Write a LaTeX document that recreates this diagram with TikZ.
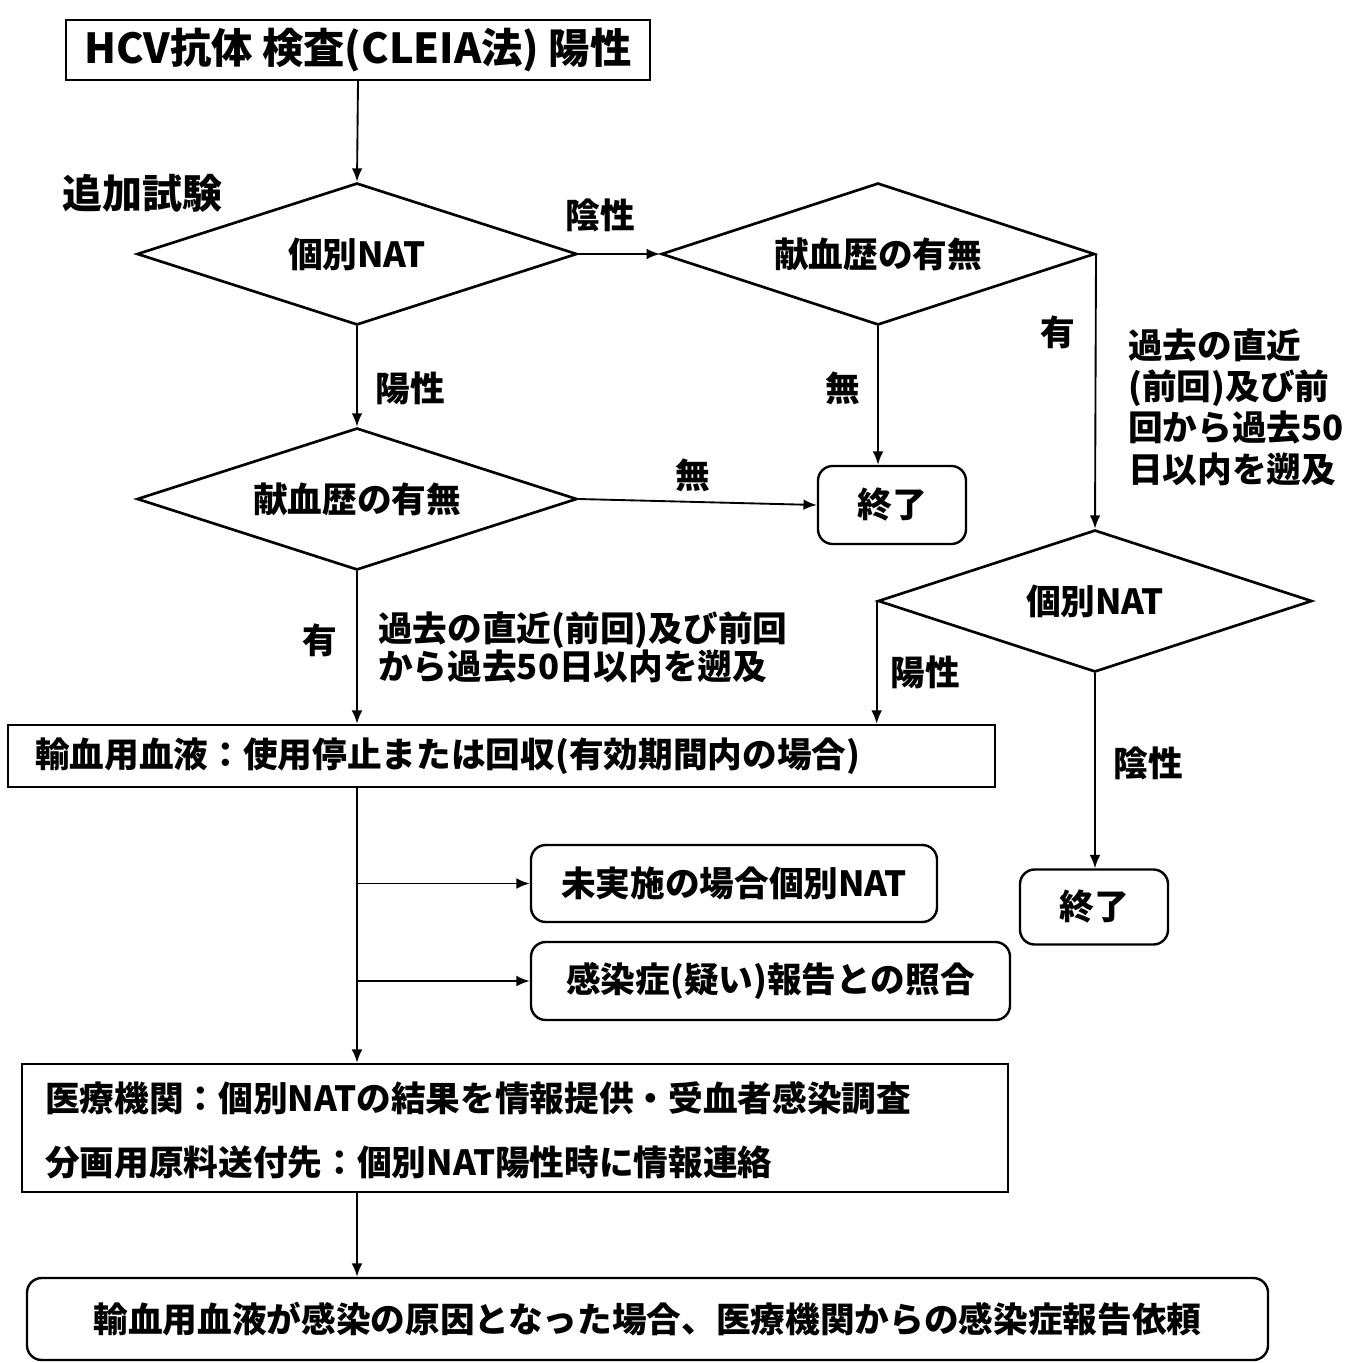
\documentclass[tikz,border=0pt]{standalone}
\usepackage{fontspec}
\setmainfont{Noto Sans CJK JP}
\usetikzlibrary{shapes.geometric,arrows.meta}
\begin{document}
\begin{tikzpicture}[x=0.75pt,y=-0.75pt,
  every node/.style={font=\fontsize{26}{31}\selectfont\bfseries, inner sep=0pt},
  dia/.style={draw, line width=2pt, shape=diamond, aspect=3.1, minimum height=106.5pt},
  sqbox/.style={draw, line width=1.8pt},
  rbox/.style={draw, line width=1.8pt, rounded corners=11pt},
  arr/.style={line width=1.4pt, -{Latex[length=10pt,width=8pt]}},
  lbl/.style={}
]
\useasboundingbox (0,0) rectangle (1357,1363);
% nodes
\node[sqbox, minimum width=438pt, minimum height=45pt, font=\fontsize{31}{36}\selectfont\bfseries] (top) at (358,50) {HCV抗体 検査(CLEIA法) 陽性};
\node[lbl, font=\fontsize{30}{36}\selectfont\bfseries] (tsuika) at (142,193) {追加試験};
\node[dia, minimum width=330pt] (d1) at (357,254) {個別NAT};
\node[dia, minimum width=325pt] (d2) at (878,254) {献血歴の有無};
\node[dia, minimum width=330pt] (d3) at (357,499) {献血歴の有無};
\node[dia, minimum width=325.5pt] (d4) at (1095,601) {個別NAT};
\node[rbox, minimum width=111pt, minimum height=58.5pt] (end1) at (892,505) {終了};
\node[rbox, minimum width=111pt, minimum height=56.25pt] (end2) at (1094,907) {終了};
\node[sqbox, minimum width=740.25pt, minimum height=46.5pt] (box1) at (501.5,756) {};
\node[anchor=west] (box1t) at (35,756) {輸血用血液：使用停止または回収(有効期間内の場合)};
\node[rbox, minimum width=304.5pt, minimum height=57.75pt] (nat) at (734,883.5) {未実施の場合個別NAT};
\node[rbox, minimum width=359.25pt, minimum height=58.5pt] (rep) at (770.5,981) {感染症(疑い)報告との照合};
\node[sqbox, minimum width=739.5pt, minimum height=96pt] (box3) at (515,1128) {};
\node[anchor=west] (box3a) at (45,1098) {医療機関：個別NATの結果を情報提供・受血者感染調査};
\node[anchor=west] (box3b) at (45,1162) {分画用原料送付先：個別NAT陽性時に情報連絡};
\node[rbox, minimum width=930.75pt, minimum height=61.5pt] (last) at (647.5,1319) {輸血用血液が感染の原因となった場合、医療機関からの感染症報告依頼};
% labels
\node (l1) at (600,215) {陰性};
\node (l2) at (410,388) {陽性};
\node (l3) at (843,388) {無};
\node (l4) at (693,475) {無};
\node (l5) at (1058,332) {有};
\node[anchor=north west, align=left] (l6) at (1128,328) {過去の直近\\(前回)及び前\\回から過去50\\日以内を遡及};
\node (l7) at (320,640) {有};
\node[anchor=north west, align=left, font=\fontsize{26}{28.5}\selectfont\bfseries] (l8) at (378,611) {過去の直近(前回)及び前回\\から過去50日以内を遡及};
\node (l9) at (925,672) {陽性};
\node (l10) at (1148,763) {陰性};
% connectors
\draw[arr] (top.south) -- (d1.north);
\draw[arr] (d1.east) -- (d2.west);
\draw[arr] (d2.south) -- (d2.south |- end1.north);
\draw[arr] (d1.south) -- (d3.north);
\draw[arr] (d3.east) -- (end1.west);
\draw[arr] (d2.east) -- (d4.north);
\draw[arr] (d4.west) -- (d4.west |- box1.north);
\draw[arr] (d4.south) -- (d4.south |- end2.north);
\draw[arr] (d3.south) -- (d3.south |- box1.north);
\draw[arr] (d3.south |- box1.south) -- (d3.south |- box3.north);
\draw[arr] (d3.south |- nat.west) -- (nat.west);
\draw[arr] (d3.south |- rep.west) -- (rep.west);
\draw[arr] (d3.south |- box3.south) -- (d3.south |- last.north);
\end{tikzpicture}
\end{document}
